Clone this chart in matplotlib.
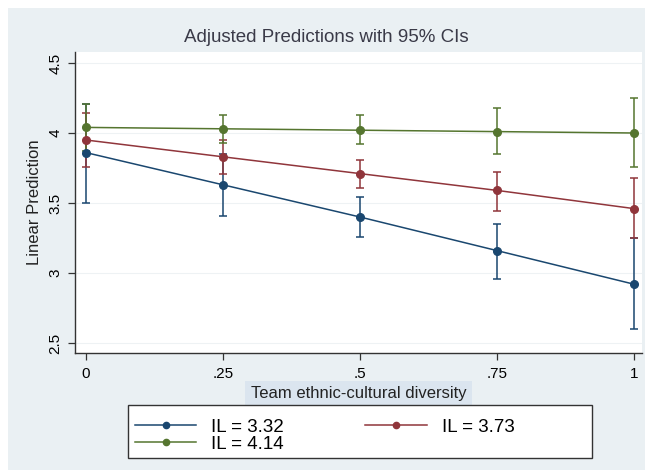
import matplotlib
matplotlib.use("Agg")
import matplotlib.pyplot as plt  # noqa: E402
from matplotlib.patches import Rectangle  # noqa: E402

plt.rcParams["font.family"] = ["Liberation Sans", "DejaVu Sans"]

# data
diversity = [0, 0.25, 0.5, 0.75, 1]
x_ticklabels = ["0", ".25", ".5", ".75", "1"]
y_ticks = [2.5, 3, 3.5, 4, 4.5]
y_ticklabels = ["2.5", "3", "3.5", "4", "4.5"]

series_labels = ["IL = 3.32", "IL = 3.73", "IL = 4.14"]
pred_332 = [3.86, 3.63, 3.40, 3.16, 2.92]
lo_332 = [3.50, 3.41, 3.26, 2.96, 2.60]
hi_332 = [4.21, 3.85, 3.54, 3.35, 3.25]
pred_373 = [3.95, 3.83, 3.71, 3.59, 3.46]
lo_373 = [3.76, 3.71, 3.61, 3.44, 3.25]
hi_373 = [4.14, 3.95, 3.81, 3.72, 3.68]
pred_414 = [4.04, 4.03, 4.02, 4.01, 4.00]
lo_414 = [3.87, 3.93, 3.92, 3.85, 3.76]
hi_414 = [4.21, 4.13, 4.13, 4.18, 4.25]

colors = ["#1a476f", "#90353b", "#55752f"]
W, H = 650, 473

fig = plt.figure(figsize=(6.5, 4.73), dpi=100, facecolor="white")
# Stata-like graph region behind everything
fig.patches.append(Rectangle((8 / W, 1 - 470 / H), 637 / W, 462 / H,
                             transform=fig.transFigure, facecolor="#eaf0f3",
                             edgecolor="none", zorder=-5))

ax = fig.add_axes([75 / W, 1 - 353 / H, 567 / W, 301 / H])
ax.set_facecolor("white")

for pred, lo, hi, c in zip((pred_332, pred_373, pred_414),
                           (lo_332, lo_373, lo_414),
                           (hi_332, hi_373, hi_414), colors):
    err = [[p - l for p, l in zip(pred, lo)], [h - p for p, h in zip(pred, hi)]]
    ax.errorbar(diversity, pred, yerr=err, color=c, lw=1.1, marker="o",
                ms=5.5, elinewidth=1.1, capsize=3, capthick=1.1, zorder=3)

ax.set_xlim(-0.020, 1.0146)
ax.set_ylim(2.4286, 4.5786)
ax.set_xticks(diversity, x_ticklabels)
ax.set_yticks(y_ticks, y_ticklabels)
ax.tick_params(axis="y", labelrotation=90, labelsize=11, length=5,
               width=0.9, color="#333333", pad=4)
ax.tick_params(axis="x", labelsize=11, length=5, width=0.9,
               color="#333333", pad=5)
for lab in ax.get_yticklabels():
    lab.set_va("center")
ax.grid(axis="y", color="#eef2f4", lw=0.8)
ax.set_axisbelow(True)
for s in ("top", "right"):
    ax.spines[s].set_visible(False)
for s in ("left", "bottom"):
    ax.spines[s].set_color("#333333")
    ax.spines[s].set_linewidth(1.0)

ax.set_ylabel("Linear Prediction", fontsize=12, color="#222222", labelpad=5)
ax.set_xlabel("Team ethnic-cultural diversity", fontsize=12, color="#222222",
              labelpad=4, bbox=dict(facecolor="#dbe5ef", edgecolor="none",
                                    pad=4))
fig.text(326 / W, 1 - 37 / H, "Adjusted Predictions with 95% CIs",
         fontsize=13.5, color="#3a3a48", ha="center", va="center")

# legend box drawn by hand so it can be wider than its content
fig.patches.append(Rectangle((128 / W, 1 - 458 / H), 464 / W, 53 / H,
                             transform=fig.transFigure, facecolor="white",
                             edgecolor="#333333", lw=1.0, zorder=1))
handles = [plt.Line2D([], [], color=c, lw=1.1, marker="o", ms=4.5)
           for c in colors]
order = [0, 2, 1]
leg = fig.legend([handles[i] for i in order],
                 [series_labels[i] for i in order],
                 loc="upper left", bbox_to_anchor=(128 / W, 1 - 412 / H),
                 ncol=2, fontsize=13.5, frameon=False,
                 handlelength=3.3, columnspacing=4.3, labelspacing=0.0,
                 borderpad=0.35, borderaxespad=0, handletextpad=0.8)
leg.set_zorder(2)

fig.savefig("out.png", dpi=100, facecolor="white")
